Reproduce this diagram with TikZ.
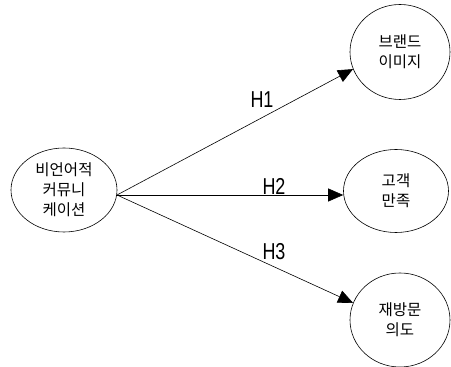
\documentclass[tikz,border=0pt]{standalone}
\usepackage{fontspec}
\usepackage{tikz}
\usetikzlibrary{shapes,arrows.meta}
\newfontfamily\kr{Noto Sans CJK KR}
\newfontfamily\hfont[FakeStretch=0.78]{Liberation Sans}
\tikzset{ell/.style={ellipse,draw,line width=0.6pt,inner sep=0pt,align=center,font=\kr\fontsize{15.5}{20}\selectfont}}
\tikzset{hyp/.style={font=\hfont\fontsize{23}{23}\selectfont}}

\begin{document}
\begin{tikzpicture}[x=1pt,y=1pt,>={Triangle[length=15pt,width=13pt]}]
        \useasboundingbox (0,0) rectangle (451,367);
        \node[ell,minimum width=106,minimum height=84] (src)at (64,177) {비언어적\\커뮤니\\케이션};
        \node[ell,minimum width=100,minimum height=95] (a)at (400,315) {브랜드\\이미지};
        \node[ell,minimum width=105,minimum height=83] (b)at (396,176) {고객\\만족};
        \node[ell,minimum width=100,minimum height=94] (c)at (400,47) {재방문\\의도};
        \coordinate (o) at (117,172);

        \draw [->,line width=0.6pt] (o) to (a.200);
        \draw [->,line width=0.6pt] (o) to (o -| b.west);
        \draw [->,line width=0.6pt] (o) to (c.160);
        \node[hyp] (h1)at (262,267) {H1};
        \node[hyp] (h2)at (274,181) {H2};
        \node[hyp] (h3)at (274,115) {H3};
    \end{tikzpicture}
\end{document}
